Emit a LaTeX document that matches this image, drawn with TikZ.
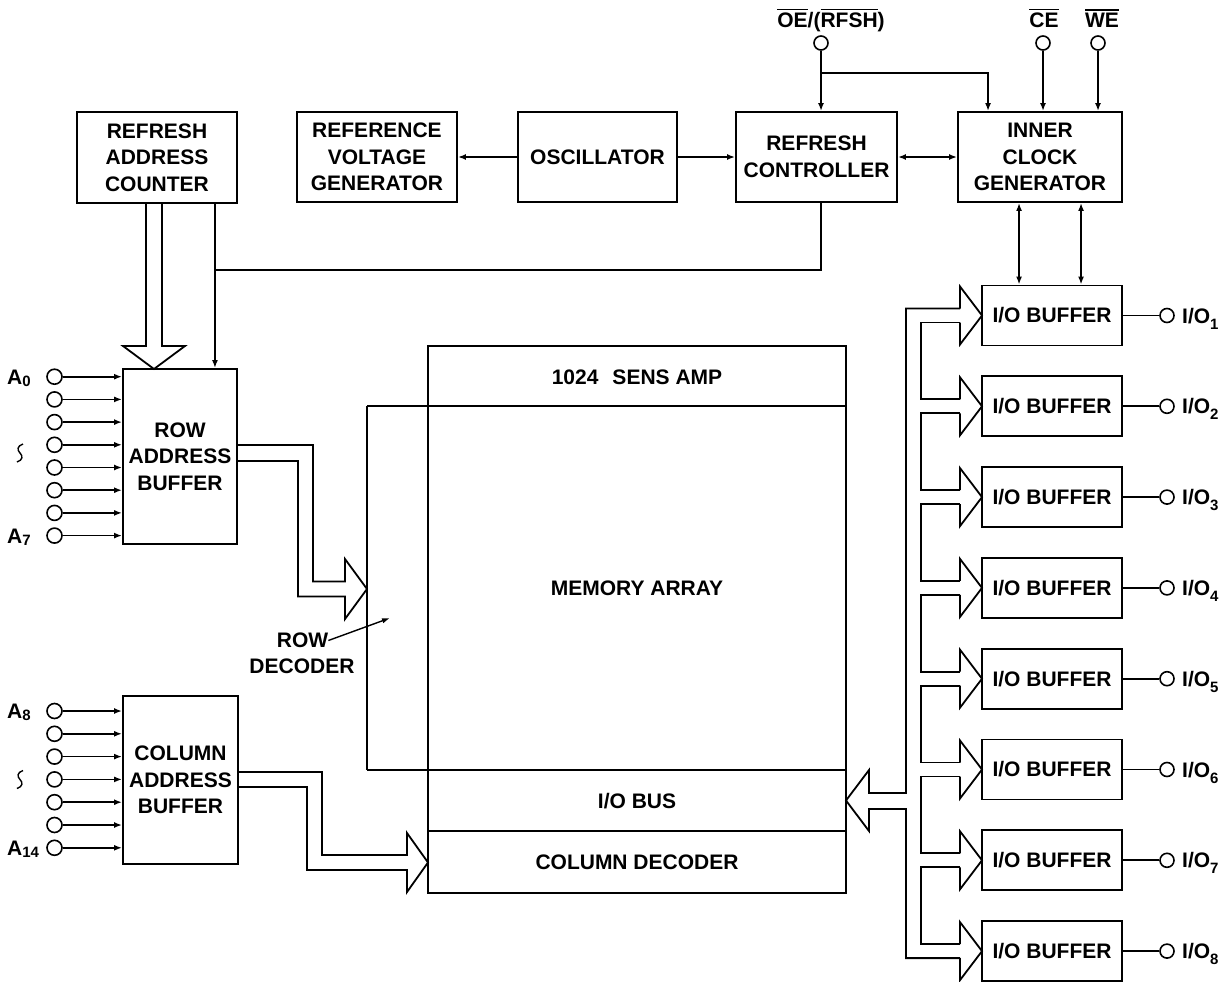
\documentclass[tikz,border=0pt]{standalone}
\usepackage{fontspec}
\setmainfont{Liberation Sans}
\usetikzlibrary{arrows.meta,calc}
\newcommand{\ovl}[1]{\vbox{\hrule height 1.5pt\kern 3pt\hbox{#1}}}
\newcommand{\sba}[1]{\raisebox{-2pt}{\fontsize{15}{15}\selectfont #1}}
\newcommand{\sbi}[1]{\raisebox{-6pt}{\fontsize{15}{15}\selectfont #1}}
\begin{document}
\begin{tikzpicture}[x=1pt,y=-1pt,
  blk/.style={draw, line width=1.9pt, inner sep=0pt, align=center, font=\bfseries\fontsize{21}{26.5}\selectfont},
  lbl/.style={font=\bfseries\fontsize{21}{26}\selectfont, inner sep=0pt},
  pin/.style={circle, draw, line width=1.6pt, minimum size=14pt, inner sep=0pt},
  arr/.style={line width=1.6pt, -{Latex[length=8pt,width=6pt]}},
  arr2/.style={line width=1.6pt, {Latex[length=8pt,width=6pt]}-{Latex[length=8pt,width=6pt]}},
  wire/.style={line width=1.7pt},
  bus/.style={line width=1.8pt, line join=miter},
  edge/.style={line width=1.9pt}]
\useasboundingbox (0,0) rectangle (1231,982);

% top row blocks
\node[blk, minimum width=160pt, minimum height=91pt] (rac) at (157,157.5) {REFRESH\\ADDRESS\\COUNTER};
\node[blk, minimum width=160pt, minimum height=90pt] (rvg) at (377,157) {REFERENCE\\VOLTAGE\\GENERATOR};
\node[blk, minimum width=159pt, minimum height=90pt] (osc) at (597.5,157) {OSCILLATOR};
\node[blk, minimum width=161pt, minimum height=90pt] (rc) at (816.5,157) {REFRESH\\CONTROLLER};
\node[blk, minimum width=164pt, minimum height=90pt] (icg) at (1040,157) {INNER\\CLOCK\\GENERATOR};

% address buffers
\node[blk, minimum width=114pt, minimum height=175pt] (rab) at (180,456.5) {ROW\\ADDRESS\\BUFFER};
\node[blk, minimum width=115pt, minimum height=168pt] (cab) at (180.5,780) {COLUMN\\ADDRESS\\BUFFER};

% memory block
\node[draw, line width=1.9pt, minimum width=418pt, minimum height=547pt, inner sep=0pt] (mem) at (637,619.5) {};
\draw[edge] (367,406) -- (846,406);
\draw[edge] (367,770) -- (846,770);
\draw[edge] (428,831) -- (846,831);
\draw[edge] (367,406) -- (367,770);
\node[lbl] (sens) at (637,377) {1024\hspace{14pt}SENS AMP};
\node[lbl] (marr) at (637,588) {MEMORY ARRAY};
\node[lbl] (iobus) at (637,801) {I/O BUS};
\node[lbl] (coldec) at (637,862) {COLUMN DECODER};
\node[lbl] (rowt) at (302.5,640.5) {ROW};
\node[lbl] (dect) at (302,666) {DECODER};
\coordinate (rdtip) at (390,618);
\draw[line width=1.4pt, -{Latex[length=8pt,width=5.5pt]}] (rowt.east) -- (rdtip);

% top control pins
\node[pin] (oe) at (821,43) {};
\node[pin] (ce) at (1043,43) {};
\node[pin] (we) at (1098,43) {};
\node[lbl, anchor=base] (oel) at (831,28) {\ovl{OE}/(\ovl{RFSH})};
\node[lbl, anchor=base] (cel) at (1044,28) {\ovl{CE}};
\node[lbl, anchor=base] (wel) at (1102,28) {\ovl{WE}};
\draw[arr] (oe.south) -- (oe.south |- rc.north);
\coordinate (br) at (821,73);
\draw[arr] (br) -| ($(icg.north west)+(31,0)$);
\draw[arr] (ce.south) -- (ce.south |- icg.north);
\draw[arr] (we.south) -- (we.south |- icg.north);

% top row connections
\draw[arr] (osc.west) -- (rvg.east);
\draw[arr] (osc.east) -- (rc.west);
\draw[arr2] (rc.east) -- (icg.west);

% refresh controller / counter to row address buffer
\coordinate (rcb) at (821,270);
\draw[wire] (rc.south -| oe) -- (rcb) -- (214,270);
\draw[arr] ($(rac.south east)+(-23,0)$) -- ($(rab.north east)+(-23,0)$);
\draw[bus] (146,203) -- (146,346) -- (123,346) -- (154,369) -- (185,346) -- (162,346) -- (162,203);

% row address bus to row decoder
\draw[bus] (237,445) -- (313,445) -- (313,581.5) -- (345,581.5) -- (345,559) -- (367,589) -- (345,619) -- (345,596.5) -- (298,596.5) -- (298,461) -- (237,461);
% column address bus to column decoder
\draw[bus] (238,772) -- (322,772) -- (322,855) -- (407,855) -- (407,833) -- (428,862.5) -- (407,892) -- (407,870) -- (307,870) -- (307,787) -- (238,787);

% row address pins
\foreach \i/\y in {0/376.7,1/399.4,2/422.1,3/444.8,4/467.5,5/490.2,6/512.9,7/535.6}{
  \node[pin, minimum size=15pt] (ra\i) at (54.5,\y) {};
  \draw[arr] (ra\i.east) -- (ra\i.east -| rab.west);
}
\node[lbl, anchor=base west] (la0) at (7,384.2) {A\sba{0}};
\node[lbl, anchor=base west] (la7) at (7,543.1) {A\sba{7}};
\draw[line width=1.4pt] (23,444) .. controls (17,446) and (17,450) .. (20,453) .. controls (23,456) and (23,460) .. (17,462);

% column address pins
\foreach \i/\y in {0/711,1/733.8,2/756.6,3/779.4,4/802.2,5/825,6/847.8}{
  \node[pin, minimum size=15pt] (ca\i) at (54.5,\y) {};
  \draw[arr] (ca\i.east) -- (ca\i.east -| cab.west);
}
\node[lbl, anchor=base west] (la8) at (7,718.5) {A\sba{8}};
\node[lbl, anchor=base west] (la14) at (7,855.3) {A\sba{14}};
\draw[line width=1.4pt] (23,770.5) .. controls (17,772.5) and (17,776.5) .. (20,779.5) .. controls (23,782.5) and (23,786.5) .. (17,788.5);

% I/O buffers
\foreach \k/\c in {1/315.5,2/406.3,3/497.1,4/587.9,5/678.7,6/769.5,7/860.3,8/951.1}{
  \node[blk, minimum width=140pt, minimum height=60pt] (iob\k) at (1052,\c) {I/O BUFFER};
  \node[pin] (io\k) at (1167,\c) {};
  \draw[wire] (iob\k.east) -- (io\k.west);
  \node[lbl, anchor=base west] (iol\k) at (1182,\c+7.5) {I/O\sbi{\k}};
  \draw[bus] (960,\c-7) -- (960,\c-29) -- (982,\c) -- (960,\c+29) -- (960,\c+7);
}
\foreach \a/\b in {315.5/406.3,406.3/497.1,497.1/587.9,587.9/678.7,678.7/769.5,769.5/860.3,860.3/951.1}{
  \draw[bus] (960,\a+7) -- (921,\a+7) -- (921,\b-7) -- (960,\b-7);
}
\draw[bus] (960,308.5) -- (906,308.5) -- (906,793) -- (869,793) -- (869,770) -- (846,800.5) -- (869,831) -- (869,809) -- (906,809) -- (906,958.1) -- (960,958.1);

% inner clock generator to I/O buffers
\draw[arr2] ($(iob1.north west)+(38,0)$) -- ($(icg.south west)+(62,0)$);
\draw[arr2] ($(iob1.north west)+(100,0)$) -- ($(icg.south west)+(124,0)$);
\end{tikzpicture}
\end{document}
